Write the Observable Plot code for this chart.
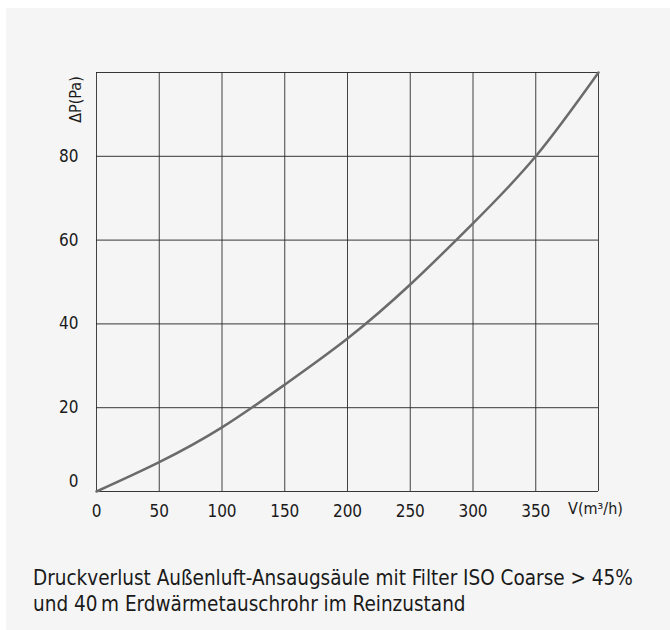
<!DOCTYPE html>
<html>
<head>
<meta charset="utf-8">
<script src="https://cdn.jsdelivr.net/npm/d3@7"></script>
<script src="https://cdn.jsdelivr.net/npm/@observablehq/plot@0.6"></script>
<style>
  html, body { margin: 0; padding: 0; background: #ffffff; }
  #panel { position: absolute; left: 6px; top: 8px; width: 664px; height: 622px; background: #f5f5f5; }
  #chart { position: absolute; left: 0; top: 0; }
  #caption { position: absolute; left: 33px; top: 565px; font-family: "DejaVu Sans Condensed", "DejaVu Sans", sans-serif; font-stretch: condensed; font-size: 20.5px; line-height: 26px; color: #1a1a1a; white-space: nowrap; }
  svg text { font-stretch: condensed; }
</style>
</head>
<body>
<div id="panel"></div>
<div id="chart"></div>
<div id="caption">Druckverlust Außenluft-Ansaugsäule mit Filter ISO Coarse &gt; 45%<br>und 40&#8201;m Erdwärmetauschrohr im Reinzustand</div>
<script>
// Volume flow (m³/h) and pressure drop (Pa)
const flow = [0, 50, 100, 150, 200, 250, 300, 350, 400];
const pressure = [0, 7.0, 15.3, 25.5, 36.5, 49.4, 64.0, 80.0, 100];

const xTicks = [0, 50, 100, 150, 200, 250, 300, 350];
const xGrid = [0, 50, 100, 150, 200, 250, 300, 350, 400];
const yTicks = [20, 40, 60, 80];
const yGrid = [0, 20, 40, 60, 80, 100];
const xLabel = "V(m³/h)";
const yLabel = "ΔP(Pa)";

const data = flow.map((f, i) => ({flow: f, p: pressure[i]}));

const font = "'DejaVu Sans Condensed', 'DejaVu Sans', sans-serif";

const chart = Plot.plot({
  width: 670,
  height: 540,
  marginLeft: 96,
  marginRight: 72,
  marginTop: 72,
  marginBottom: 49,
  style: {background: "transparent", fontFamily: font, fontSize: "17px", color: "#1a1a1a"},
  x: {domain: [0, 400]},
  y: {domain: [0, 100]},
  marks: [
    Plot.ruleX(xGrid, {stroke: "#222", strokeWidth: 1, strokeOpacity: 0.85}),
    Plot.ruleY(yGrid, {stroke: "#222", strokeWidth: 1, strokeOpacity: 0.9}),
    Plot.axisX({ticks: xTicks, tickSize: 0, tickPadding: 13, label: null, fontSize: 17}),
    Plot.axisY({ticks: yTicks, tickSize: 0, tickPadding: 18, label: null, fontSize: 17}),
    Plot.text([0], {x: 0, y: 0, text: d => String(d), frameAnchor: "left", dx: -18, dy: -10, textAnchor: "end", fontSize: 17}),
    Plot.text([xLabel], {x: 400, y: 0, text: d => d, dy: 17, dx: -3, fontSize: 16, textAnchor: "middle"}),
    Plot.text([yLabel], {x: 0, y: 100, text: d => d, dx: -21, dy: 27, rotate: -90, fontSize: 16, textAnchor: "middle"}),
    Plot.line(data, {x: "flow", y: "p", curve: "natural", stroke: "#6b6b6b", strokeWidth: 2.5})
  ]
});
document.getElementById("chart").appendChild(chart);
</script>
</body>
</html>
